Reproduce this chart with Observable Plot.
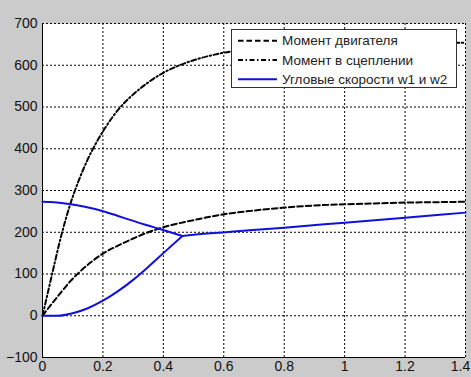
<!DOCTYPE html>
<html>
<head>
<meta charset="utf-8">
<script src="https://cdn.jsdelivr.net/npm/d3@7"></script>
<script src="https://cdn.jsdelivr.net/npm/@observablehq/plot@0.6"></script>
<style>
  html, body { margin: 0; padding: 0; background: #cbcbcb; }
  #chart { width: 471px; height: 377px; overflow: hidden; }
</style>
</head>
<body>
<div id="chart"></div>
<script>
// ---- Data ----
const xTicks = [0, 0.2, 0.4, 0.6, 0.8, 1, 1.2, 1.4];
const yTicks = [-100, 0, 100, 200, 300, 400, 500, 600, 700];
const legendLabels = ["Момент двигателя", "Момент в сцеплении", "Угловые скорости w1 и w2"];

// Момент двигателя (dashed)
const motorT = [0, 0.03, 0.06, 0.09, 0.12, 0.16, 0.2, 0.25, 0.3, 0.35, 0.4, 0.5, 0.6, 0.7, 0.8, 0.9, 1.0, 1.1, 1.2, 1.3, 1.4];
const motorV = [0, 28, 55, 81, 103, 128, 149, 168, 185, 200, 212, 229, 243, 252, 259, 264, 267, 269, 271, 272, 273];

// Момент в сцеплении (dash-dot)
const clutchT = [0, 0.03, 0.06, 0.09, 0.12, 0.15, 0.18, 0.21, 0.25, 0.3, 0.35, 0.4, 0.45, 0.5, 0.6, 0.7, 0.8, 0.9, 1.0, 1.2, 1.4];
const clutchV = [0, 94, 186, 263, 324, 375, 417, 453, 493, 530, 559, 582, 599, 612, 630, 640, 645, 648, 650, 652, 654];

// Угловые скорости w1 и w2 (blue)
const w1T = [0, 0.04, 0.083, 0.14, 0.198, 0.25, 0.292, 0.35, 0.391, 0.463];
const w1V = [273, 272, 268, 261, 251, 239, 229, 216, 207, 191];
const w2T = [0, 0.05, 0.1, 0.15, 0.2, 0.25, 0.3, 0.35, 0.4, 0.463];
const w2V = [0, 0, 6, 18, 36, 59, 86, 117, 150, 191];
const wT = [0.463, 0.5, 0.623, 0.8, 1.0, 1.2, 1.4];
const wV = [191, 194, 201, 211, 223, 235, 247];

const toRows = (ts, vs) => ts.map((t, i) => ({t, v: vs[i]}));
const motor = toRows(motorT, motorV);
const clutch = toRows(clutchT, clutchV);
const w1 = toRows(w1T, w1V);
const w2 = toRows(w2T, w2V);
const w = toRows(wT, wV);

const blue = "#1010dc";
const dashMotor = "5.5,3";
const dashClutch = "5,2.5,1.5,2.5";

const fmtX = d => String(+d.toFixed(1));

const chart = Plot.plot({
  width: 471,
  height: 377,
  marginLeft: 42,
  marginRight: 6,
  marginTop: 23,
  marginBottom: 20,
  style: {background: "#cbcbcb", fontFamily: "'Liberation Sans', Arial, sans-serif", fontSize: "14px", color: "#111", overflow: "hidden"},
  x: {domain: [0, 1.4]},
  y: {domain: [-100, 700]},
  marks: [
    Plot.frame({fill: "white", stroke: "none"}),
    Plot.ruleX(xTicks.slice(1), {stroke: "#000", strokeWidth: 1, strokeDasharray: "2,2"}),
    Plot.ruleY(yTicks.slice(1), {stroke: "#000", strokeWidth: 1, strokeDasharray: "2,2"}),
    Plot.ruleX([0], {stroke: "#000", strokeWidth: 1}),
    Plot.ruleY([-100], {stroke: "#000", strokeWidth: 1}),
    Plot.axisX({ticks: xTicks.slice(0, -1), tickFormat: fmtX, tickSize: 0, tickPadding: 4, fontSize: 14, label: null}),
    Plot.axisX({ticks: xTicks.slice(-1), tickFormat: fmtX, tickSize: 0, tickPadding: 4, fontSize: 14, label: null, dx: -5}),
    Plot.axisY({ticks: yTicks, tickSize: 0, tickPadding: 5, fontSize: 14, label: null}),
    Plot.line(motor, {x: "t", y: "v", stroke: "#000", strokeWidth: 2, strokeDasharray: dashMotor, curve: "monotone-x"}),
    Plot.line(clutch, {x: "t", y: "v", stroke: "#000", strokeWidth: 2, strokeDasharray: dashClutch, curve: "monotone-x"}),
    Plot.line(w1, {x: "t", y: "v", stroke: blue, strokeWidth: 2, curve: "monotone-x"}),
    Plot.line(w2, {x: "t", y: "v", stroke: blue, strokeWidth: 2, curve: "monotone-x"}),
    Plot.line(w, {x: "t", y: "v", stroke: blue, strokeWidth: 2, curve: "monotone-x"})
  ]
});

document.getElementById("chart").appendChild(chart);

// ---- Legend (inside axes, top right) ----
const svg = d3.select(chart);
const lg = svg.append("g")
  .attr("font-family", "'Liberation Sans', Arial, sans-serif")
  .attr("font-size", 13.5)
  .attr("text-anchor", "start");
lg.append("rect")
  .attr("x", 231.5).attr("y", 29.5).attr("width", 225).attr("height", 58)
  .attr("fill", "white").attr("stroke", "#333").attr("stroke-width", 1);
const styles = [
  {stroke: "#000", dash: dashMotor},
  {stroke: "#000", dash: dashClutch},
  {stroke: blue, dash: null}
];
legendLabels.forEach((label, i) => {
  const cy = 40.7 + i * 19.3;
  lg.append("line")
    .attr("x1", 238).attr("x2", 277).attr("y1", cy).attr("y2", cy)
    .attr("stroke", styles[i].stroke).attr("stroke-width", 2)
    .attr("stroke-dasharray", styles[i].dash);
  lg.append("text")
    .attr("x", 282).attr("y", cy).attr("dy", "0.35em")
    .attr("text-anchor", "start")
    .attr("fill", "#222").text(label);
});
</script>
</body>
</html>
